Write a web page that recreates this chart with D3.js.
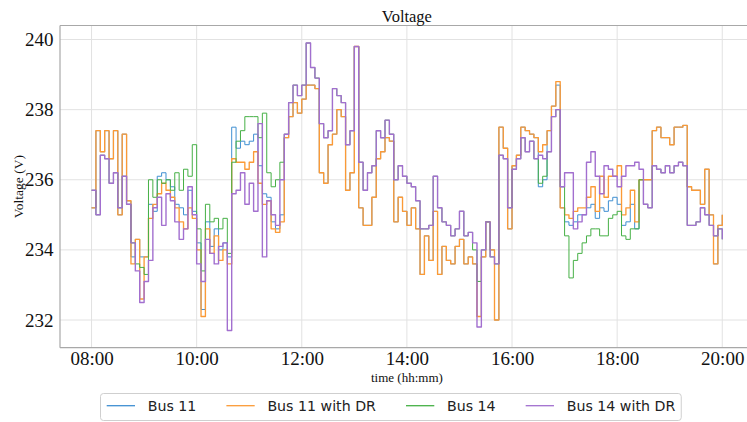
<!DOCTYPE html>
<html>
<head>
<meta charset="utf-8">
<script src="https://cdn.jsdelivr.net/npm/d3@7"></script>
<style>
  body { margin: 0; background: #fff; }
  svg { display: block; }
</style>
</head>
<body>
<svg id="chart" width="747" height="422"></svg>
<script>
// Bus voltages (V), sampled every 5 minutes from 08:00 to 20:00
const seriesNames = ["Bus 11", "Bus 11 with DR", "Bus 14", "Bus 14 with DR"];
const seriesColors = ["#3f8fd2", "#fb9a36", "#46b046", "#a26fcf"];
const seriesWidths = [1.0, 1.35, 1.0, 1.4];

const bus11 = [
  235.2,237.4,236.8,237.4,236.6,237.4,235.0,237.3,235.4,233.8,234.3,233.8,
  233.8,235.3,235.1,236.1,236.2,236.0,235.8,235.3,235.2,235.0,235.7,235.1,
  234.2,232.3,234.8,234.1,234.6,234.0,234.2,233.8,237.5,236.9,237.1,237.0,
  237.1,237.3,236.4,235.6,235.5,234.8,234.6,235.0,237.2,237.8,238.2,237.9,
  238.3,238.7,238.7,238.6,236.2,235.9,237.0,237.3,238.0,237.8,235.7,236.2,
  239.8,235.2,234.7,234.7,235.5,236.6,236.8,237.2,237.1,234.8,235.5,235.1,
  234.7,235.2,234.6,233.3,234.4,233.7,235.1,233.3,234.1,233.7,233.6,234.1,
  234.3,233.6,233.8,233.6,232.1,233.8,234.8,234.0,232.0,237.5,236.9,234.6,
  236.4,236.7,237.5,237.4,237.3,237.2,235.8,236.0,237.4,238.1,238.7,235.2,
  234.8,234.7,234.8,235.0,235.0,235.2,235.3,234.9,235.2,235.1,235.4,235.5,
  235.3,234.7,234.8,235.3,234.6,236.0,236.0,236.0,237.4,237.5,237.2,237.2,
  237.0,237.5,237.5,237.55,235.8,235.7,235.7,235.3,236.3,235.0,233.6,234.7,
  235.0
];

const bus11DR = [
  235.2,237.4,236.8,237.4,236.6,237.4,235.0,237.3,235.4,233.6,234.3,232.6,
  233.8,234.9,235.3,235.6,235.9,235.7,235.5,235.2,234.8,234.6,235.2,234.9,
  234.0,232.1,234.6,233.9,234.4,233.7,234.0,233.6,236.6,236.5,236.5,236.3,
  236.5,236.8,235.9,235.3,235.4,234.6,234.5,234.8,237.2,237.8,238.2,237.9,
  238.3,238.7,238.7,238.6,236.2,235.9,237.0,237.3,238.0,237.8,235.7,236.2,
  239.8,235.2,234.7,234.7,235.5,236.6,236.8,237.2,237.1,234.8,235.5,235.1,
  234.7,235.2,234.6,233.3,234.4,233.7,235.1,233.3,234.1,233.7,233.6,234.1,
  234.3,233.6,233.8,233.6,232.1,233.8,234.8,234.0,232.0,237.5,236.9,234.6,
  236.4,236.7,237.5,237.4,237.3,237.2,236.8,237.0,237.4,238.1,238.8,235.2,
  235.0,234.9,235.1,235.2,235.2,235.5,235.8,235.1,236.1,235.5,236.1,236.1,
  236.4,235.0,235.2,235.7,234.8,236.0,236.0,236.0,237.4,237.5,237.2,237.2,
  237.0,237.5,237.5,237.55,235.8,235.7,235.7,235.3,236.3,235.0,233.6,234.7,
  235.0
];

const bus14 = [
  235.7,235.0,236.7,236.6,235.9,236.2,235.2,236.1,235.3,234.2,233.6,233.5,
  233.3,236.0,235.5,236.0,235.9,236.0,235.7,236.2,235.7,236.3,236.1,237.0,
  234.6,233.4,235.3,234.8,234.9,234.6,234.9,233.9,236.5,237.1,237.4,237.8,
  237.8,237.8,237.2,237.9,236.2,235.8,236.0,236.5,237.3,238.2,238.7,238.4,
  238.7,239.9,239.2,238.9,237.6,237.2,237.4,238.6,238.4,238.2,237.0,237.4,
  239.8,236.5,235.7,236.2,236.4,237.4,237.2,237.7,237.3,236.0,236.4,236.1,
  235.9,235.8,235.4,234.6,234.6,234.7,236.1,235.2,234.8,234.7,234.4,234.6,
  235.1,234.4,234.5,234.0,233.1,234.0,234.8,233.8,233.6,236.7,236.6,235.2,
  236.3,236.6,237.2,236.8,237.1,236.6,235.9,236.1,236.8,237.8,238.0,235.8,
  234.4,233.2,233.7,233.9,234.2,234.4,234.6,234.6,234.4,234.4,234.9,235.0,
  235.1,234.4,234.3,234.6,234.6,236.0,235.3,235.2,236.4,236.3,236.2,236.4,
  236.2,236.4,236.5,236.4,234.7,234.7,234.8,235.2,235.0,234.7,234.4,234.6,
  234.3
];

const bus14DR = [
  235.7,235.0,236.7,236.6,235.9,236.2,235.2,236.1,235.3,234.2,233.4,232.5,
  233.1,233.7,235.2,235.5,234.7,235.6,235.4,234.8,234.3,234.6,235.8,235.0,
  233.6,233.1,234.3,233.9,233.6,234.1,234.2,231.7,235.6,235.7,236.2,235.3,
  235.9,235.1,237.6,233.8,235.4,235.0,234.7,236.0,237.3,238.2,238.7,238.4,
  238.7,239.9,239.2,238.9,237.6,237.2,237.4,238.6,238.4,238.2,237.0,237.4,
  239.8,236.5,235.7,236.2,236.4,237.4,237.2,237.7,237.3,236.0,236.4,236.1,
  235.9,235.8,235.4,234.6,234.6,234.7,236.1,235.2,234.8,234.7,234.4,234.6,
  235.1,234.4,234.5,234.2,231.8,234.0,234.8,233.8,233.6,236.7,236.6,235.2,
  236.3,236.6,237.2,236.8,237.1,236.6,236.7,236.6,236.8,237.8,238.0,235.8,
  236.2,236.2,234.6,234.8,235.0,236.5,236.8,236.1,235.6,236.4,236.3,236.1,
  235.8,236.1,236.4,236.4,236.5,236.3,235.3,235.2,236.4,236.3,236.2,236.4,
  236.2,236.4,236.5,236.4,234.7,234.7,234.8,235.2,235.0,234.7,234.4,234.6,
  234.3
];

const yTicks = [232, 234, 236, 238, 240];
const xTickHours = [8, 10, 12, 14, 16, 18, 20];

const day = (h, m) => new Date(2021, 0, 1, h, m);
const times = bus11.map((_, i) => day(8, i * 5));
const xTicks = xTickHours.map(h => day(h, 0));

const plot = { left: 60, right: 753.8, top: 25.5, bottom: 347.7 };

const x = d3.scaleTime()
  .domain([day(7, 24), day(20, 36)])
  .range([plot.left, plot.right]);
const y = d3.scaleLinear()
  .domain([231.21, 240.40])
  .range([plot.bottom, plot.top]);

const svg = d3.select("#chart");
const serif = "'Liberation Serif', 'Times New Roman', serif";
const sans = "'DejaVu Sans', sans-serif";

svg.append("rect").attr("width", 747).attr("height", 422).attr("fill", "#fff");

// grid
const grid = svg.append("g").attr("stroke", "#e2e2e2").attr("stroke-width", 1);
grid.selectAll("line.v").data(xTicks).join("line")
  .attr("x1", d => x(d)).attr("x2", d => x(d))
  .attr("y1", plot.top).attr("y2", plot.bottom);
grid.selectAll("line.h").data(yTicks).join("line")
  .attr("x1", plot.left).attr("x2", plot.right)
  .attr("y1", d => y(d)).attr("y2", d => y(d));

// series, drawn in legend order so the DR curves sit on top
const seriesData = [bus11, bus11DR, bus14, bus14DR];
const line = d3.line()
  .x((d, i) => x(times[i]))
  .y(d => y(d))
  .curve(d3.curveStepAfter);

svg.append("defs").append("clipPath").attr("id", "plotclip")
  .append("rect")
  .attr("x", plot.left).attr("y", plot.top)
  .attr("width", plot.right - plot.left).attr("height", plot.bottom - plot.top);

svg.append("g").attr("clip-path", "url(#plotclip)")
  .selectAll("path").data(seriesData).join("path")
  .attr("d", line)
  .attr("fill", "none")
  .attr("stroke", (d, i) => seriesColors[i])
  .attr("stroke-width", (d, i) => seriesWidths[i])
  .attr("stroke-linejoin", "round");

// spines
const spine = svg.append("g").attr("stroke", "#a8a8a8").attr("stroke-width", 1.2);
spine.append("line").attr("x1", plot.left).attr("x2", plot.right).attr("y1", plot.top).attr("y2", plot.top);
spine.append("line").attr("x1", plot.left).attr("x2", plot.left).attr("y1", plot.top).attr("y2", plot.bottom);
spine.append("line").attr("x1", plot.left).attr("x2", plot.right).attr("y1", plot.bottom).attr("y2", plot.bottom);

// axes
const xAxis = svg.append("g")
  .attr("transform", `translate(0,${plot.bottom})`)
  .call(d3.axisBottom(x).tickValues(xTicks).tickFormat(d3.timeFormat("%H:%M")).tickSize(0).tickPadding(4));
xAxis.select(".domain").remove();
xAxis.selectAll("text").attr("font-family", serif).attr("font-size", 19).attr("fill", "#111");

const yAxis = svg.append("g")
  .attr("transform", `translate(${plot.left},0)`)
  .call(d3.axisLeft(y).tickValues(yTicks).tickFormat(d3.format("d")).tickSize(0).tickPadding(6.5));
yAxis.select(".domain").remove();
yAxis.selectAll("text").attr("font-family", serif).attr("font-size", 19).attr("fill", "#111");

// titles
svg.append("text")
  .attr("x", (plot.left + plot.right) / 2).attr("y", 21.5)
  .attr("text-anchor", "middle")
  .attr("font-family", serif).attr("font-size", 16.5).attr("fill", "#111")
  .text("Voltage");

svg.append("text")
  .attr("x", (plot.left + plot.right) / 2).attr("y", 381.5)
  .attr("text-anchor", "middle")
  .attr("font-family", serif).attr("font-size", 13).attr("fill", "#111")
  .text("time (hh:mm)");

svg.append("text")
  .attr("transform", `translate(23,${(plot.top + plot.bottom) / 2}) rotate(-90)`)
  .attr("text-anchor", "middle")
  .attr("font-family", serif).attr("font-size", 13.5).attr("fill", "#111")
  .text("Voltage (V)");

// legend
const legend = svg.append("g");
const legendBox = legend.append("rect")
  .attr("fill", "#fff").attr("stroke", "#cfcfcf").attr("stroke-width", 1)
  .attr("rx", 3).attr("ry", 3);
const legendY = 405.7;
let cursor = 106.7;
seriesNames.forEach((name, i) => {
  legend.append("line")
    .attr("x1", cursor).attr("x2", cursor + 28.3)
    .attr("y1", legendY).attr("y2", legendY)
    .attr("stroke", seriesColors[i]).attr("stroke-width", 1.3);
  const t = legend.append("text")
    .attr("x", cursor + 41).attr("y", legendY)
    .attr("dy", "0.36em")
    .attr("font-family", sans).attr("font-size", 14.2).attr("fill", "#222")
    .text(name);
  cursor = cursor + 41 + t.node().getComputedTextLength() + 30;
});
legendBox
  .attr("x", 100.5).attr("y", 393.5)
  .attr("width", cursor - 30 + 6 - 100.5).attr("height", 27);
</script>
</body>
</html>
